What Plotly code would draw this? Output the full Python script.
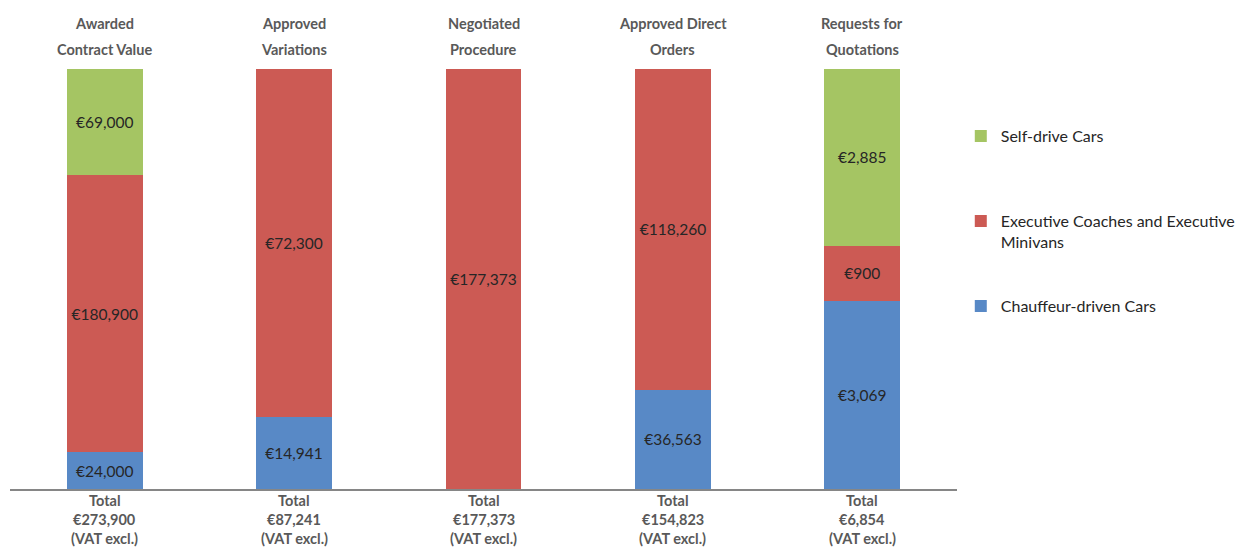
import plotly.graph_objects as go

# Procurement categories (two-line headings above the bars)
categories = ["Awarded Contract Value", "Approved Variations", "Negotiated Procedure",
              "Approved Direct Orders", "Requests for Quotations"]
heading_lines = [("Awarded", "Contract Value"), ("Approved", "Variations"),
                 ("Negotiated", "Procedure"), ("Approved Direct", "Orders"),
                 ("Requests for", "Quotations")]

# Values per service type (EUR, VAT excl.)
chauffeur_cars = [24000, 14941, 0, 36563, 3069]
executive_coaches = [180900, 72300, 177373, 118260, 900]
self_drive_cars = [69000, 0, 0, 0, 2885]
totals = [273900, 87241, 177373, 154823, 6854]

series = [
    ("Chauffeur-driven Cars", chauffeur_cars, "#5889C6", "legend3"),
    ("Executive Coaches and Executive<br>Minivans", executive_coaches, "#CC5A54", "legend2"),
    ("Self-drive Cars", self_drive_cars, "#A5C563", "legend"),
]

FONT = "Lato"
GREY = "#595959"

fig = go.Figure()
for name, vals, color, leg in series:
    fig.add_trace(go.Bar(
        x=categories, y=vals, name=name, legend=leg,
        marker=dict(color=color, line=dict(width=0)),
        text=[f"€{v:,}" if v else "" for v in vals],
        textposition="inside", insidetextanchor="middle", textangle=0,
        textfont=dict(family=FONT, size=15.5, color="#262626"),
        hoverinfo="skip",
    ))

annotations = []
for cat, (l1, l2), tot in zip(categories, heading_lines, totals):
    for txt, shift in ((l1, 46), (l2, 20)):
        annotations.append(dict(
            x=cat, xref="x", y=1, yref="paper", yshift=shift, yanchor="middle",
            text=f"<b>{txt}</b>", showarrow=False,
            font=dict(family=FONT, size=14.5, color=GREY)))
    for txt, shift in (("Total", -11), (f"€{tot:,}", -30), ("(VAT excl.)", -49)):
        annotations.append(dict(
            x=cat, xref="x", y=0, yref="paper", yshift=shift, yanchor="middle",
            text=f"<b>{txt}</b>", showarrow=False,
            font=dict(family=FONT, size=14.5, color=GREY)))

H = 420.0
def leg_y(py):
    return (489 - py) / H

leg_common = dict(x=1.004, xanchor="left", yanchor="top", valign="top",
                  font=dict(family=FONT, size=16, color="#262626"),
                  bgcolor="rgba(0,0,0,0)", borderwidth=0)

fig.update_layout(
    barmode="stack", barnorm="percent", bargap=0.6,
    width=1236, height=550,
    margin=dict(l=10, r=279, t=69, b=61, autoexpand=False),
    paper_bgcolor="white", plot_bgcolor="white",
    xaxis=dict(showticklabels=False, showgrid=False, zeroline=False, ticks="",
               showline=True, linecolor="#868686", linewidth=2,
               range=[-0.5, 4.5]),
    yaxis=dict(visible=False, range=[0, 100], showgrid=False, zeroline=False),
    annotations=annotations,
    legend=dict(y=leg_y(119), **leg_common),
    legend2=dict(y=leg_y(204), **leg_common),
    legend3=dict(y=leg_y(289), **leg_common),
    showlegend=True,
    uniformtext=dict(minsize=15.5, mode="show"),
)

fig.write_html("out.html")
